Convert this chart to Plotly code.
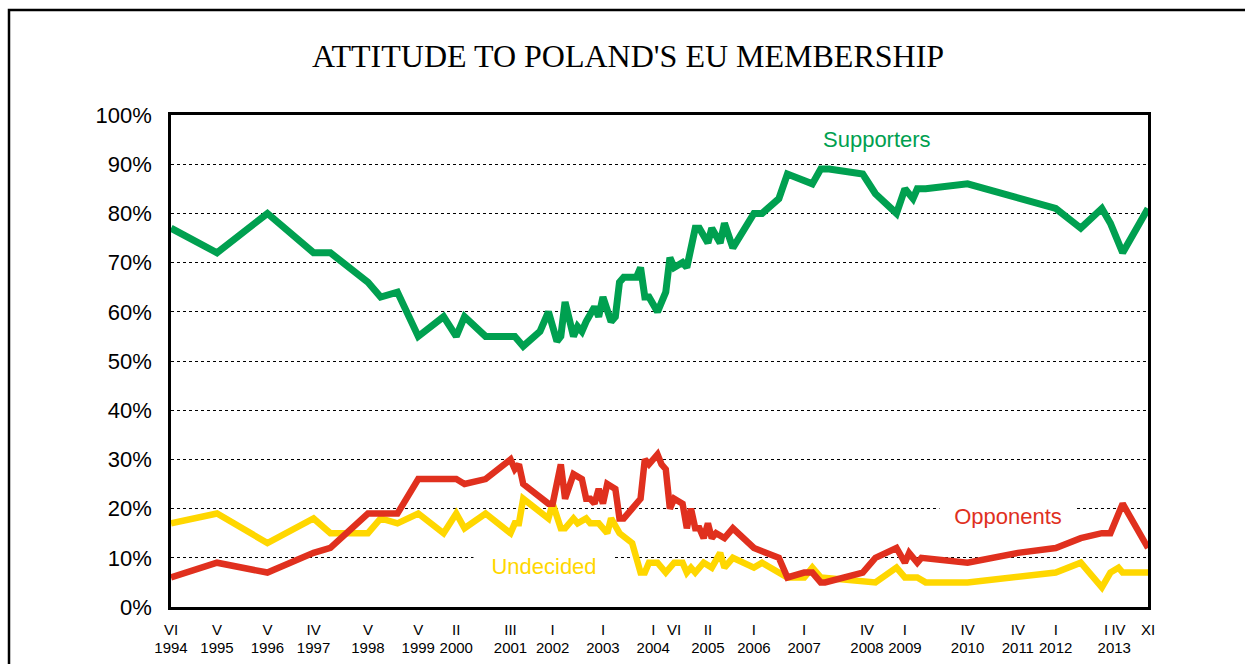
import plotly.graph_objects as go

# ---------------- data ----------------
supp_dates = ["1994-06", "1995-05", "1996-05", "1997-04", "1997-08", "1998-05", "1998-08", "1998-12",
              "1999-05", "1999-11", "2000-02", "2000-04", "2000-09", "2001-04", "2001-06", "2001-10",
              "2001-12", "2002-02", "2002-03", "2002-04", "2002-06", "2002-07", "2002-08", "2002-09",
              "2002-11", "2002-12", "2003-01", "2003-03", "2003-04", "2003-05", "2003-06", "2003-09",
              "2003-10", "2003-11", "2003-12", "2004-02", "2004-04", "2004-05", "2004-06", "2004-08",
              "2004-09", "2004-11", "2004-12", "2005-02", "2005-03", "2005-05", "2005-06", "2005-08",
              "2006-01", "2006-03", "2006-07", "2006-09", "2007-03", "2007-05", "2007-07", "2008-03",
              "2008-06", "2008-11", "2009-01", "2009-03", "2009-04", "2009-06", "2010-04", "2011-04",
              "2012-01", "2012-07", "2012-12", "2013-02", "2013-05", "2013-11"]
supporters = [77, 72, 80, 72, 72, 66, 63, 64,
              55, 59, 55, 59, 55, 55, 53, 56,
              60, 54, 55, 62, 55, 57, 56, 58,
              61, 59, 63, 58, 59, 66, 67, 67,
              69, 63, 63, 60, 64, 71, 69, 70,
              69, 77, 77, 74, 77, 74, 78, 73,
              80, 80, 83, 88, 86, 89, 89, 88,
              84, 80, 85, 83, 85, 85, 86, 83,
              81, 77, 81, 78, 72, 81]

opp_dates = ["1994-06", "1995-05", "1996-05", "1997-04", "1997-08", "1998-05", "1998-12", "1999-05",
             "2000-02", "2000-04", "2000-09", "2001-03", "2001-04", "2001-05", "2001-06", "2001-09",
             "2001-12", "2002-01", "2002-03", "2002-04", "2002-06", "2002-08", "2002-09", "2002-10",
             "2002-11", "2002-12", "2003-01", "2003-02", "2003-04", "2003-05", "2003-06", "2003-08",
             "2003-10", "2003-11", "2003-12", "2004-02", "2004-03", "2004-04", "2004-05", "2004-06",
             "2004-08", "2004-09", "2004-10", "2004-11", "2004-12", "2005-01", "2005-02", "2005-03",
             "2005-04", "2005-06", "2005-08", "2006-01", "2006-07", "2006-09", "2007-01", "2007-03",
             "2007-05", "2007-06", "2008-03", "2008-06", "2008-11", "2009-01", "2009-02", "2009-04",
             "2009-05", "2010-04", "2011-04", "2012-01", "2012-07", "2012-12", "2013-02", "2013-05",
             "2013-11"]
opponents = [6, 9, 7, 11, 12, 19, 19, 26,
             26, 25, 26, 30, 28, 29, 25, 23,
             21, 21, 29, 22, 27, 26, 22, 22,
             21, 24, 21, 25, 24, 18, 18, 20,
             22, 30, 29, 31, 29, 28, 20, 22,
             21, 16, 20, 16, 16, 14, 17, 14,
             15, 14, 16, 12, 10, 6, 7, 7,
             5, 5, 7, 10, 12, 9, 11, 9,
             10, 9, 11, 12, 14, 15, 15, 21,
             12]

und_dates = ["1994-06", "1995-05", "1996-05", "1997-04", "1997-08", "1998-05", "1998-08", "1998-12",
             "1999-05", "1999-11", "2000-02", "2000-04", "2000-09", "2001-03", "2001-04", "2001-05",
             "2001-06", "2001-09", "2001-12", "2002-01", "2002-03", "2002-04", "2002-06", "2002-07",
             "2002-09", "2002-10", "2002-12", "2003-02", "2003-03", "2003-05", "2003-08", "2003-10",
             "2003-11", "2003-12", "2004-02", "2004-04", "2004-06", "2004-08", "2004-09", "2004-10",
             "2004-11", "2005-01", "2005-03", "2005-05", "2005-06", "2005-08", "2006-01", "2006-03",
             "2006-09", "2007-01", "2007-03", "2007-05", "2008-03", "2008-06", "2008-11", "2009-01",
             "2009-04", "2009-06", "2010-04", "2011-04", "2012-01", "2012-07", "2012-12", "2013-02",
             "2013-04", "2013-05", "2013-11"]
undecided = [17, 19, 13, 18, 15, 15, 18, 17,
             19, 15, 19, 16, 19, 15, 17, 17,
             22, 20, 18, 21, 16, 16, 18, 17,
             18, 17, 17, 15, 18, 15, 13, 7,
             7, 9, 9, 7, 9, 9, 7, 8,
             7, 9, 8, 11, 8, 10, 8, 9,
             6, 6, 8, 6, 5, 5, 8, 6,
             6, 5, 5, 6, 7, 9, 4, 7,
             8, 7, 7]

month_tick_dates = ["1994-06", "1995-05", "1996-05", "1997-04", "1998-05", "1999-05", "2000-02",
                    "2001-03", "2002-01", "2003-01", "2004-01", "2004-06", "2005-02", "2006-01",
                    "2007-01", "2008-04", "2009-01", "2010-04", "2011-04", "2012-01", "2013-01",
                    "2013-04", "2013-11"]
month_tick_text = ["VI", "V", "V", "IV", "V", "V", "II",
                   "III", "I", "I", "I", "VI", "II", "I",
                   "I", "IV", "I", "IV", "IV", "I", "I",
                   "IV", "XI"]
year_tick_dates = ["1994-06", "1995-05", "1996-05", "1997-04", "1998-05", "1999-05", "2000-02",
                   "2001-03", "2002-01", "2003-01", "2004-01", "2005-02", "2006-01", "2007-01",
                   "2008-04", "2009-01", "2010-04", "2011-04", "2012-01", "2013-03"]
year_tick_text = ["1994", "1995", "1996", "1997", "1998", "1999", "2000",
                  "2001", "2002", "2003", "2004", "2005", "2006", "2007",
                  "2008", "2009", "2010", "2011", "2012", "2013"]

title_text = "ATTITUDE TO POLAND'S EU MEMBERSHIP"
y_ticks = list(range(0, 101, 10))
y_tick_text = [f"{v}%" for v in y_ticks]

GREEN = "#00A050"
RED = "#E0301E"
YELLOW = "#FFD700"
SANS = "Liberation Sans, Arial, sans-serif"
SERIF = "Liberation Serif, Times New Roman, serif"

fig = go.Figure()
fig.add_trace(go.Scatter(x=und_dates, y=undecided, mode="lines", name="Undecided",
                         line=dict(color=YELLOW, width=6.5), showlegend=False, hoverinfo="skip"))
fig.add_trace(go.Scatter(x=opp_dates, y=opponents, mode="lines", name="Opponents",
                         line=dict(color=RED, width=6.5), showlegend=False, hoverinfo="skip"))
fig.add_trace(go.Scatter(x=supp_dates, y=supporters, mode="lines", name="Supporters",
                         line=dict(color=GREEN, width=7), showlegend=False, hoverinfo="skip"))
# dummy trace to anchor the year-label axis
fig.add_trace(go.Scatter(x=[supp_dates[0]], y=[None], xaxis="x2", mode="lines",
                         showlegend=False, hoverinfo="skip"))

fig.update_layout(
    width=1245, height=664,
    margin=dict(l=171, r=97, t=115, b=57, pad=0, autoexpand=False),
    paper_bgcolor="white", plot_bgcolor="white",
    title=dict(text=title_text, x=628 / 1245, xref="container", xanchor="center",
               y=1 - 56 / 664, yref="container", yanchor="middle",
               font=dict(family=SERIF, size=32, color="black")),
    xaxis=dict(type="date", range=["1994-06-01", "2013-11-01"], automargin=False,
               tickmode="array", tickvals=month_tick_dates, ticktext=month_tick_text,
               tickfont=dict(family=SANS, size=15, color="black"),
               showgrid=False, zeroline=False, ticks="",
               showline=True, mirror=True, linecolor="black", linewidth=2.5,
               ticklabelstandoff=7),
    xaxis2=dict(type="date", overlaying="x", matches="x", anchor="y", side="bottom",
                automargin=False,
                tickmode="array", tickvals=year_tick_dates, ticktext=year_tick_text,
                tickfont=dict(family=SANS, size=15, color="black"),
                showgrid=False, zeroline=False, ticks="", showline=False,
                ticklabelstandoff=30),
    yaxis=dict(range=[0, 100], tickmode="array", tickvals=y_ticks, ticktext=y_tick_text,
               automargin=False,
               tickfont=dict(family=SANS, size=22, color="black"),
               showgrid=True, gridcolor="black", gridwidth=1, griddash="dot",
               zeroline=False, ticks="",
               showline=True, mirror=True, linecolor="black", linewidth=2.5,
               ticklabelstandoff=12),
    shapes=[dict(type="rect", xref="paper", yref="paper",
                 x0=(9 - 171) / 977, x1=1.2, y0=-0.5, y1=(607 - 10) / 492,
                 line=dict(color="black", width=2.5), fillcolor="rgba(0,0,0,0)", layer="above")],
    annotations=[
        dict(text="Supporters", x="2008-06-10", y=95.1, xref="x", yref="y", showarrow=False,
             font=dict(family=SANS, size=22, color=GREEN)),
        dict(text="Opponents", x="2011-01-20", y=18.5, xref="x", yref="y", showarrow=False,
             bgcolor="white", width=134, height=24,
             font=dict(family=SANS, size=22, color=RED)),
        dict(text="Undecided", x="2001-11-01", y=8.3, xref="x", yref="y", showarrow=False,
             bgcolor="white", width=138, height=24,
             font=dict(family=SANS, size=22, color=YELLOW)),
    ],
)

fig.write_html("out.html", config={"displayModeBar": False},
               post_script="document.body.style.margin='0';document.body.style.overflow='hidden';")
